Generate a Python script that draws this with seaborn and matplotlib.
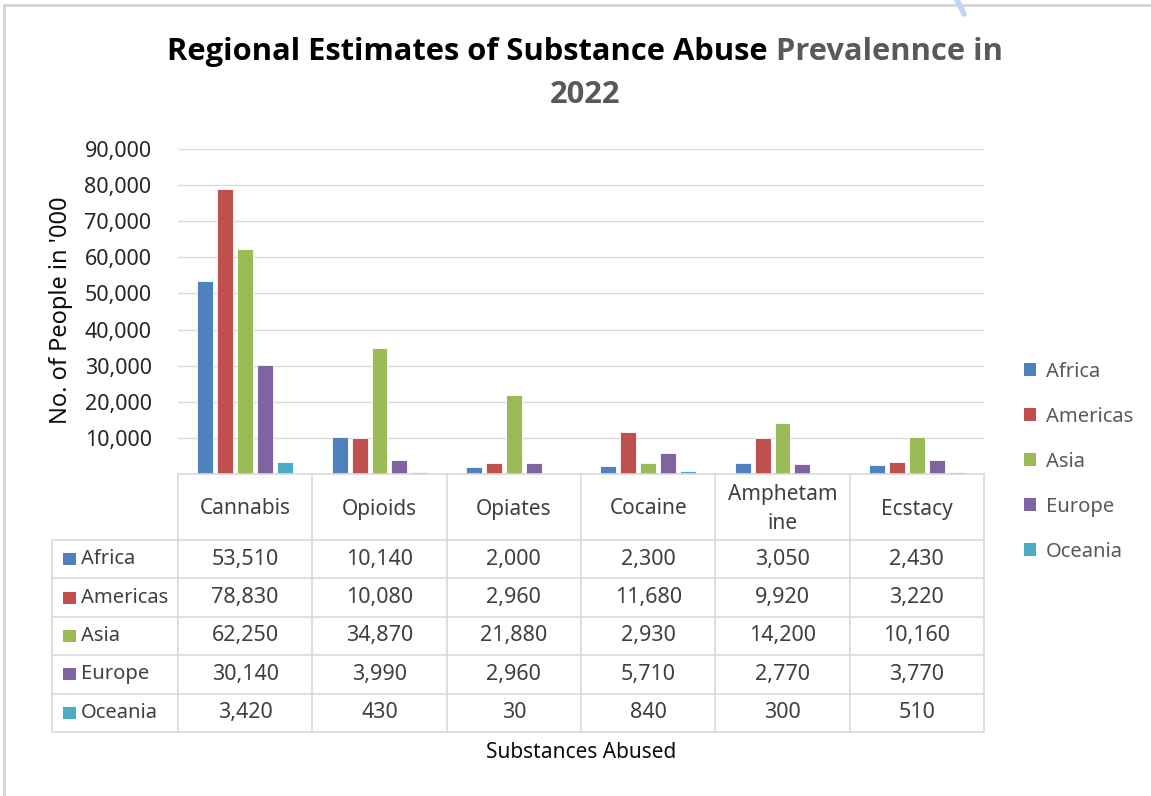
import numpy as np
import pandas as pd
import seaborn as sns
import matplotlib.pyplot as plt
from matplotlib.patches import Patch, Rectangle
from matplotlib.lines import Line2D
from matplotlib import font_manager

# ---- data -------------------------------------------------------------
substances = ["Cannabis", "Opioids", "Opiates", "Cocaine", "Amphetamine", "Ecstacy"]
header_labels = ["Cannabis", "Opioids", "Opiates", "Cocaine", "Amphetam\nine", "Ecstacy"]
regions = ["Africa", "Americas", "Asia", "Europe", "Oceania"]
africa = [53510, 10140, 2000, 2300, 3050, 2430]
americas = [78830, 10080, 2960, 11680, 9920, 3220]
asia = [62250, 34870, 21880, 2930, 14200, 10160]
europe = [30140, 3990, 2960, 5710, 2770, 3770]
oceania = [3420, 430, 30, 840, 300, 510]
y_ticks = [10000, 20000, 30000, 40000, 50000, 60000, 70000, 80000, 90000]
region_colors = ["#4F81BD", "#C0504D", "#9BBB59", "#8064A2", "#4BACC6"]

series = [africa, americas, asia, europe, oceania]
df = pd.DataFrame({
    "Substance": np.repeat([substances], len(regions), axis=0).ravel(),
    "Region": np.repeat(regions, len(substances)),
    "People": np.concatenate(series),
})

# ---- style ------------------------------------------------------------
sns.set_theme(style="white")
plt.rcParams["font.family"] = ["Noto Sans", "DejaVu Sans"]

# pick a family that really ships a bold face for the title
bold_families = {f.name for f in font_manager.fontManager.ttflist
                 if f.weight in (700, "bold") or f.weight == 700}
title_family = next((n for n in ["Noto Sans", "Open Sans", "Lato", "Roboto", "DejaVu Sans"]
                     if n in bold_families), "DejaVu Sans")

W, H = 1151, 796
fig = plt.figure(figsize=(W / 100, H / 100), dpi=100)


def fx(px):
    return px / W


def fy(py):
    return 1 - py / H


# ---- bar chart -------------------------------------------------------
plot_l, plot_r, plot_top, plot_base = 178, 984, 149, 474
ax = fig.add_axes([fx(plot_l), fy(plot_base), fx(plot_r - plot_l), (plot_base - plot_top) / H])
sns.barplot(data=df, x="Substance", y="People", hue="Region", hue_order=regions,
            order=substances, palette=region_colors, width=0.74, gap=0.2,
            saturation=1, edgecolor="white", linewidth=0.6, legend=False, ax=ax)
ax.set_xlim(-0.5, len(substances) - 0.5)
ax.set_ylim(0, 90000)
ax.set_yticks(y_ticks)
ax.set_yticklabels([f"{v:,}" for v in y_ticks], fontsize=15.5, color="#262626")
ax.tick_params(axis="y", length=0, pad=19)
ax.set_xticks([])
ax.set_xlabel("")
ax.set_ylabel("")
ax.grid(axis="y", color="#D9D9D9", linewidth=1)
ax.set_axisbelow(True)
for s in ax.spines.values():
    s.set_visible(False)

fig.text(fx(61), fy(310), "No. of People in '000", rotation=90, ha="center", va="center",
         fontsize=17, color="#0D0D0D")

# ---- legend -----------------------------------------------------------
handles = [Patch(facecolor=c, edgecolor="none") for c in region_colors]
fig.legend(handles, regions, loc="upper left", bbox_to_anchor=(fx(1024), fy(362)),
           frameon=False, fontsize=14.5, labelcolor="#595959",
           handlelength=0.62, handleheight=0.62, handletextpad=0.45,
           labelspacing=1.24, borderpad=0, borderaxespad=0)

# ---- data table -------------------------------------------------------
tbl_l, tbl_b, head_b = 52, 732, 540
tax = fig.add_axes([fx(tbl_l), fy(tbl_b), fx(plot_r - tbl_l), (tbl_b - plot_base) / H])
tax.set_xlim(tbl_l, plot_r)
tax.set_ylim(tbl_b, plot_base)
tax.axis("off")
grid_c = "#D9D9D9"
col_w = (plot_r - plot_l) / len(substances)
row_h = (tbl_b - head_b) / len(regions)
col_edges = [plot_l + i * col_w for i in range(len(substances) + 1)]
row_edges = [head_b + i * row_h for i in range(len(regions) + 1)]

tax.plot([plot_l, plot_r], [plot_base, plot_base], color=grid_c, lw=1.2, clip_on=False)
for y in row_edges:
    tax.plot([tbl_l, plot_r], [y, y], color=grid_c, lw=1.2, clip_on=False)
for x in col_edges:
    tax.plot([x, x], [plot_base, tbl_b], color=grid_c, lw=1.2, clip_on=False)
tax.plot([tbl_l, tbl_l], [head_b, tbl_b], color=grid_c, lw=1.2, clip_on=False)

for j, lab in enumerate(header_labels):
    tax.text(col_edges[j] + col_w / 2, (plot_base + head_b) / 2 + 2, lab, ha="center",
             va="center", fontsize=15, color="#404040", linespacing=1.45)

for i, (reg, vals, c) in enumerate(zip(regions, series, region_colors)):
    yc = row_edges[i] + row_h / 2
    tax.add_patch(Rectangle((63, yc - 6), 13, 12, facecolor=c, edgecolor="none"))
    tax.text(81, yc, reg, ha="left", va="center", fontsize=14.5, color="#404040")
    for j, v in enumerate(vals):
        tax.text(col_edges[j] + col_w / 2, yc, f"{v:,}", ha="center", va="center",
                 fontsize=15.5, color="#404040")

fig.text(fx(581), fy(753), "Substances Abused", ha="center", va="center",
         fontsize=15, color="#0D0D0D")

# ---- two-tone title ----------------------------------------------------
part_a = "Regional Estimates of Substance Abuse "
part_b = "Prevalennce in"
title_w = 837
fig.canvas.draw()
r = fig.canvas.get_renderer()
title_kw = dict(fontsize=20, fontweight="bold", family=title_family, va="center")
ta = fig.text(0, fy(52), part_a, color="#000000", ha="left", **title_kw)
tb = fig.text(0, fy(52), part_b, color="#595959", ha="left", **title_kw)
total = ta.get_window_extent(r).width + tb.get_window_extent(r).width
size = 20 * title_w / total
ta.set_fontsize(size)
tb.set_fontsize(size)
wa = ta.get_window_extent(r).width
wb = tb.get_window_extent(r).width
start = 585 - (wa + wb) / 2
ta.set_x(fx(start))
tb.set_x(fx(start + wa))
title_kw["fontsize"] = size
fig.text(fx(585), fy(95), "2022", color="#595959", ha="center", **title_kw)

# ---- frame lines ---------------------------------------------------------
fig.add_artist(Line2D([fx(4), 1], [fy(5), fy(5)], color="#D4D4D4", lw=2))
fig.add_artist(Line2D([fx(4), fx(4)], [fy(5), 0], color="#D4D4D4", lw=2))
fig.add_artist(Line2D([fx(957), fx(964)], [1, fy(14)], color="#BDD7EE", lw=4,
                      solid_capstyle="round"))

fig.savefig("out.png", dpi=100)
